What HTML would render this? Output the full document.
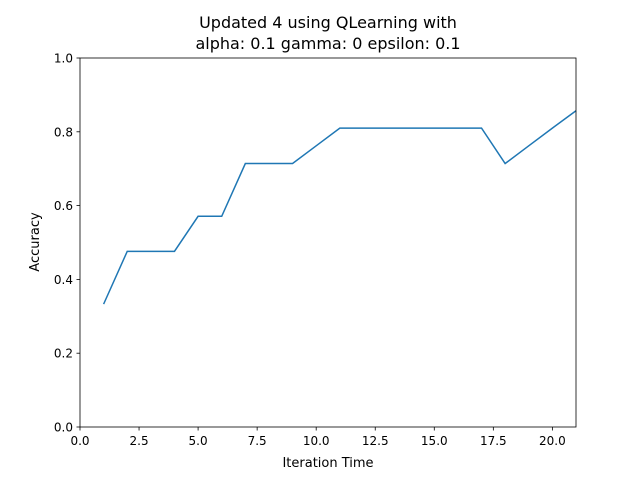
<!DOCTYPE html>
<html><head><meta charset="utf-8"><style>
body{margin:0;background:#fff}
svg text{font-family:"DejaVu Sans","Liberation Sans",sans-serif;fill:#000}
</style></head><body>
<svg id="chart" width="640" height="480" viewBox="0 0 640 480">
<rect width="640" height="480" fill="#fff"/>
<text x="328" y="28" font-size="16" text-anchor="middle">Updated 4 using QLearning with</text>
<text x="328" y="49" font-size="16" text-anchor="middle">alpha: 0.1 gamma: 0 epsilon: 0.1</text>
<g id="xt"></g>
<g id="yt"></g>
<polyline id="line" fill="none" stroke="#1f77b4" stroke-width="1.5"/>
<rect x="80" y="58" width="496" height="369" fill="none" stroke="#000" stroke-width="0.8"/>
<text x="328" y="467" font-size="13" text-anchor="middle">Iteration Time</text>
<text x="39" y="242" font-size="13" text-anchor="middle" transform="rotate(-90 39 242)">Accuracy</text>
</svg>
<script>
const xValues=[1,2,3,4,5,6,7,8,9,10,11,12,13,14,15,16,17,18,19,20,21];
const accuracy=[0.333,0.476,0.476,0.476,0.571,0.571,0.714,0.714,0.714,0.762,0.81,0.81,0.81,0.81,0.81,0.81,0.81,0.714,0.762,0.81,0.857];
const xTicks=[0,2.5,5,7.5,10,12.5,15,17.5,20];
const xTickLabels=["0.0","2.5","5.0","7.5","10.0","12.5","15.0","17.5","20.0"];
const yTicks=[0,0.2,0.4,0.6,0.8,1.0];
const yTickLabels=["0.0","0.2","0.4","0.6","0.8","1.0"];
const L=80,R=576,T=58,B=427,xmin=0,xmax=21,ymin=0,ymax=1;
const sx=v=>L+(v-xmin)/(xmax-xmin)*(R-L);
const sy=v=>B-(v-ymin)/(ymax-ymin)*(B-T);
const NS="http://www.w3.org/2000/svg";
const xg=document.getElementById('xt'),yg=document.getElementById('yt');
xTicks.forEach((t,i)=>{
 const l=document.createElementNS(NS,'line');
 l.setAttribute('x1',sx(t));l.setAttribute('x2',sx(t));l.setAttribute('y1',B);l.setAttribute('y2',B+3.5);l.setAttribute('stroke','#000');l.setAttribute('stroke-width','0.8');
 
 
 xg.appendChild(l);
 const tx=document.createElementNS(NS,'text');
 tx.setAttribute('x',sx(t));tx.setAttribute('y',B+18);tx.setAttribute('font-size','12');tx.setAttribute('text-anchor','middle');
 tx.textContent=xTickLabels[i];
 
 
 xg.appendChild(tx);
});
yTicks.forEach((t,i)=>{
 const l=document.createElementNS(NS,'line');
 l.setAttribute('x1',L-3.5);l.setAttribute('x2',L);l.setAttribute('y1',sy(t));l.setAttribute('y2',sy(t));l.setAttribute('stroke','#000');l.setAttribute('stroke-width','0.8');
 
 
 yg.appendChild(l);
 const tx=document.createElementNS(NS,'text');
 tx.setAttribute('x',L-7);tx.setAttribute('y',sy(t)+4.5);tx.setAttribute('font-size','12');tx.setAttribute('text-anchor','end');
 tx.textContent=yTickLabels[i];
 
 
 yg.appendChild(tx);
});
document.getElementById('line').setAttribute('points',xValues.map((x,i)=>sx(x)+','+sy(accuracy[i])).join(' '));
</script>
</body></html>
